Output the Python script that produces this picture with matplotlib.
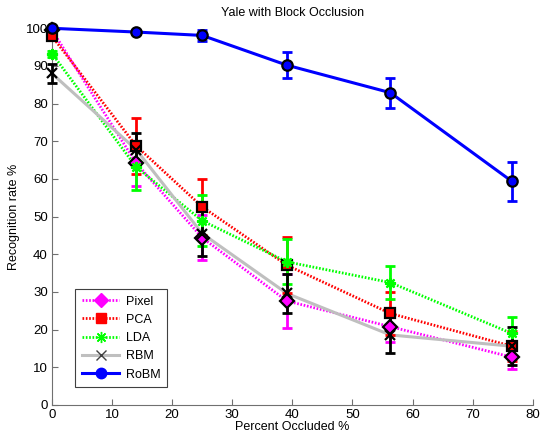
import matplotlib
matplotlib.use("Agg")
import matplotlib.pyplot as plt

plt.rcParams['font.family'] = ['Liberation Sans', 'DejaVu Sans']

occluded = [0, 14, 25, 39.1, 56.3, 76.5]

pixel = [99.5, 64.2, 44.4, 27.6, 20.8, 12.7]
pixel_err = [0.5, 6.0, 6.0, 7.2, 4.0, 3.2]
pca = [97.9, 68.8, 52.6, 37.1, 24.3, 15.6]
pca_err = [1.0, 7.5, 7.5, 7.5, 5.8, 4.0]
lda = [93.3, 63.2, 48.9, 38.0, 32.5, 19.0]
lda_err = [0.8, 6.2, 6.8, 6.0, 4.4, 4.4]
rbm = [88.0, 67.8, 45.5, 29.6, 18.6, 15.6]
rbm_err = [2.6, 4.4, 6.0, 5.2, 4.9, 5.0]
robm = [100.0, 99.0, 98.1, 90.2, 82.9, 59.4]
robm_err = [0.3, 0.6, 1.5, 3.5, 4.0, 5.2]

labels = ['Pixel', 'PCA', 'LDA', 'RBM', 'RoBM']

fig = plt.figure(figsize=(5.47, 4.33), dpi=100)
ax = fig.add_axes([0.095, 0.0647, 0.879, 0.870])

asterisk = (8, 2, 0)
dots = (0, (0.6, 0.6))
# line colour, errorbar colour, style, width, marker, face, size, plot edge, legend edge
series = [
    (pixel, pixel_err, '#ff00ff', '#ff00ff', dots, 2.0, 'D', '#ff00ff', 7, 'black', '#ff00ff'),
    (pca, pca_err, '#ff0000', '#ff0000', dots, 2.0, 's', '#ff0000', 7, 'black', '#ff0000'),
    (lda, lda_err, '#00ff00', '#00ff00', dots, 2.0, asterisk, '#00ff00', 8, '#00ff00', '#00ff00'),
    (rbm, rbm_err, '#bfbfbf', 'black', '-', 2.2, 'x', 'black', 7, 'black', '#404040'),
    (robm, robm_err, '#0000ff', '#0000ff', '-', 2.2, 'o', '#0000ff', 7.5, 'black', '#0000ff'),
]

handles = []
for (vals, err, lc, ec, ls, lw, mk, fc, ms, pe, le), lab in zip(series, labels):
    ax.errorbar(occluded, vals, yerr=err, fmt='none', ecolor=ec,
                elinewidth=2, capsize=3.6, capthick=2, zorder=3, clip_on=False)
    ax.plot(occluded, vals, color=lc, linestyle=ls, linewidth=lw, zorder=2,
            clip_on=False)
    ax.plot(occluded, vals, linestyle='none', marker=mk, markersize=ms,
            markerfacecolor=fc, markeredgecolor=pe, markeredgewidth=1.6,
            zorder=4, clip_on=False)
    h, = ax.plot([], [], color=lc, linestyle=ls, linewidth=lw, marker=mk,
                 markersize=ms, markerfacecolor=fc, markeredgecolor=le,
                 markeredgewidth=1.0, label=lab)
    handles.append(h)

ax.set_xlim(0, 80)
ax.set_ylim(0, 100)
ax.set_xticks(range(0, 81, 10))
ax.set_yticks(range(0, 101, 10))
ax.spines['top'].set_visible(False)
ax.spines['right'].set_visible(False)
for s in ('left', 'bottom'):
    ax.spines[s].set_color('#707070')
ax.tick_params(direction='in', length=4, colors='#707070', labelcolor='black',
               labelsize=9.5, pad=3)

ax.set_title('Yale with Block Occlusion', fontsize=9, pad=9)
ax.set_ylabel('Recognition rate %', fontsize=9, labelpad=4)
ax.set_xlabel('Percent Occluded %', fontsize=9, labelpad=0)

leg = ax.legend(handles=handles, loc='lower left',
                bbox_to_anchor=(0.035, 0.03), fontsize=9, fancybox=False,
                framealpha=1, edgecolor='#404040', handlelength=3.0,
                borderpad=0.55, labelspacing=0.5, handletextpad=0.5)
leg.get_frame().set_linewidth(0.8)

fig.savefig('out.png', dpi=100)
